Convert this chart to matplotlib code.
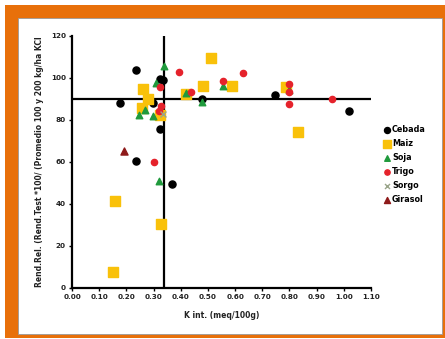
import matplotlib.pyplot as plt
from matplotlib.patches import Rectangle

# Data
cebada_x = [0.236, 0.177, 0.298, 0.324, 0.336, 0.324, 0.236, 0.367, 0.48, 0.747, 1.02]
cebada_y = [104, 88.3, 88.2, 99.7, 99.0, 75.7, 60.6, 49.5, 90, 92, 84.5]

maiz_x = [0.512, 0.26, 0.279, 0.256, 0.326, 0.16, 0.15, 0.481, 0.589, 0.42, 0.788, 0.833, 0.325]
maiz_y = [109.6, 95, 89.8, 85.6, 30.5, 41.6, 7.6, 96, 96, 92.5, 95.6, 74.2, 82.5]

soja_x = [0.337, 0.308, 0.248, 0.267, 0.297, 0.319, 0.418, 0.48, 0.557, 0.80]
soja_y = [105.7, 97.8, 82.5, 84.9, 81.7, 50.8, 92.8, 88.5, 96.1, 94.4]

trigo_x = [0.395, 0.555, 0.628, 0.437, 0.324, 0.326, 0.321, 0.303, 0.80, 0.80, 0.80, 0.957]
trigo_y = [103, 98.8, 102.6, 93.2, 95.6, 86.8, 84.4, 60, 97, 93.5, 87.4, 90]

sorgo_x = [0.336]
sorgo_y = [83]

girasol_x = [0.191]
girasol_y = [65.2]

k_critico = 0.34
rend_critico = 90

fig = plt.figure(figsize=(4.45, 3.39), dpi=100)
fig.add_artist(Rectangle((5 / 445, 1 / 339), 440 / 445, 333 / 339,
                         transform=fig.transFigure, facecolor='#E8700A',
                         edgecolor='none', zorder=-3))
fig.add_artist(Rectangle((18 / 445, 5 / 339), 424 / 445, 316 / 339,
                         transform=fig.transFigure, facecolor='white',
                         edgecolor='#9a9a9a', linewidth=0.6, zorder=-2))

ax = fig.add_axes([72 / 445, 51 / 339, 299 / 445, 252 / 339])
ax.set_zorder(1)
ax.patch.set_alpha(0)

ax.scatter(cebada_x, cebada_y, s=26, marker='o', color='black', label='Cebada', zorder=3)
ax.scatter(maiz_x, maiz_y, s=48, marker='s', color='#F9C10A', label='Maiz', zorder=3)
ax.scatter(soja_x, soja_y, s=22, marker='^', color='#1F9A3C', label='Soja', zorder=4)
ax.scatter(trigo_x, trigo_y, s=20, marker='o', color='#E5222B', label='Trigo', zorder=4)
ax.scatter(sorgo_x, sorgo_y, s=18, marker='x', color='#9AA58A', linewidths=1.0,
           label='Sorgo', zorder=5)
ax.scatter(girasol_x, girasol_y, s=26, marker='^', color='#8E1A1A', label='Girasol', zorder=4)

ax.plot([0, 1.1], [rend_critico, rend_critico], color='black', lw=1.6, zorder=2)
ax.plot([k_critico, k_critico], [0, 120], color='black', lw=1.6, zorder=2)

ax.set_xlim(0, 1.1)
ax.set_ylim(0, 120)
ax.set_xticks([i / 10 for i in range(12)])
ax.set_xticklabels(['%.2f' % (i / 10) for i in range(12)])
ax.set_yticks(range(0, 121, 20))

for s in ['top', 'right']:
    ax.spines[s].set_visible(False)
for s in ['left', 'bottom']:
    ax.spines[s].set_linewidth(1.6)
ax.tick_params(axis='both', direction='out', length=2.5, width=1.0,
               labelsize=5.2, pad=2)
for lab in ax.get_xticklabels() + ax.get_yticklabels():
    lab.set_fontweight('bold')
    lab.set_color('#222222')

ax.set_xlabel('K int. (meq/100g)', fontsize=5.5, fontweight='bold', labelpad=8,
              color='#222222')
ax.set_ylabel('Rend.Rel. (Rend.Test *100/ (Promedio 100 y 200 kg/ha KCl',
              fontsize=5.5, fontweight='bold', labelpad=5, color='#222222')

leg = ax.legend(loc='upper left', bbox_to_anchor=(379 / 445, 1 - 122 / 339),
                bbox_transform=fig.transFigure, frameon=False,
                prop={'size': 5.8, 'weight': 'bold'}, handletextpad=0.0,
                labelspacing=0.62, borderaxespad=0, handlelength=1.2,
                scatterpoints=1, markerscale=0.85)

fig.savefig('out.png', dpi=100)
